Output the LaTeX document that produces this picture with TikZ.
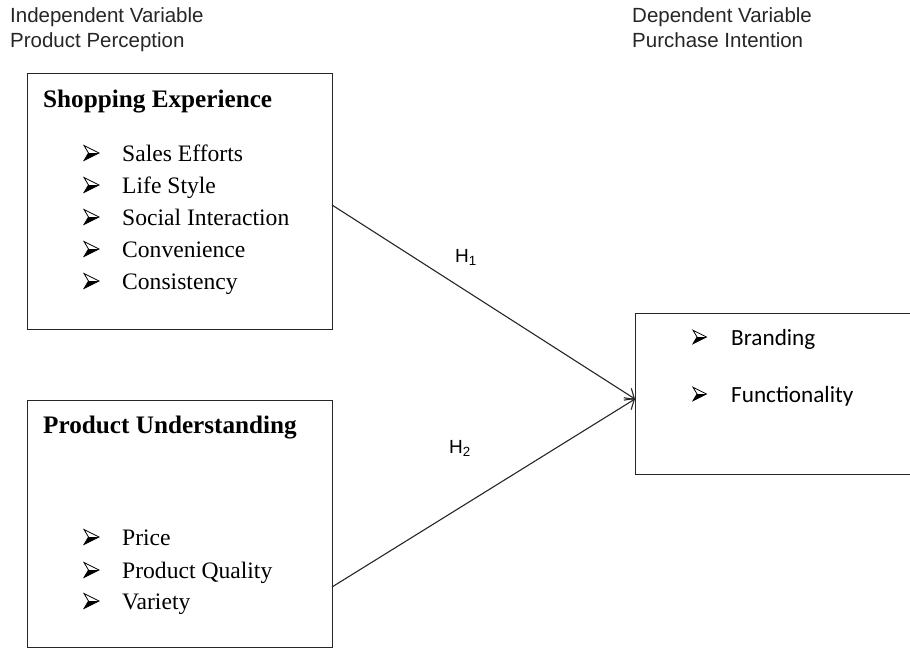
\documentclass[tikz,border=0pt]{standalone}
\usepackage{fontspec}
\setmainfont{Liberation Serif}
\newfontfamily\arialfont{Liberation Sans}
\newfontfamily\calfont{Carlito}
\usetikzlibrary{arrows.meta}
\begin{document}
\begin{tikzpicture}[x=1pt,y=-1pt,
  framebox/.style={draw=black!85, line width=0.9pt},
  headlbl/.style={anchor=base west, inner sep=0pt, font=\arialfont\fontsize{20.5}{22}\selectfont, text=black!85},
  title/.style={anchor=base west, inner sep=0pt, font=\bfseries\fontsize{25.2}{28}\selectfont},
  item/.style={anchor=base west, inner sep=0pt, font=\fontsize{23.6}{26}\selectfont},
  citem/.style={anchor=base west, inner sep=0pt, font=\calfont\fontsize{23.2}{25}\selectfont},
  hyp/.style={anchor=base west, inner sep=0pt, font=\arialfont\fontsize{19}{21}\selectfont},
  link/.style={line width=1.1pt, draw=black!85, -{Straight Barb[length=8pt,width=14pt,line width=1.1pt]}},
  % arrowhead bullet: outlined upper half, solid lower half
  arrowbullet/.pic={
    \fill[black] (15,0) -- (4.5,0) -- (0,7.5) -- cycle;
    \draw[line width=0.8pt, line join=miter] (15,0) -- (0,-7.5) -- (4.5,0) -- (0,7.5) -- cycle;
  }]
\useasboundingbox (0,0) rectangle (910,648);

% headings
\node[headlbl] (ind) at (10,22) {Independent Variable};
\node[headlbl] (pp) at (10,47) {Product Perception};
\node[headlbl] (dep) at (632,22) {Dependent Variable};
\node[headlbl] (pi) at (632,47) {Purchase Intention};

% boxes
\draw[framebox] (27,73) rectangle (332,329);
\node[minimum width=305pt, minimum height=256pt, inner sep=0pt] (shop) at (179.5,201) {};
\draw[framebox] (27,400) rectangle (332,647);
\node[minimum width=305pt, minimum height=247pt, inner sep=0pt] (prod) at (179.5,523.5) {};
\draw[framebox] (635,313) rectangle (915,474);
\node[minimum width=280pt, minimum height=161pt, inner sep=0pt] (purch) at (775,393.5) {};

% shopping experience
\node[title] (t1) at (43,107) {Shopping Experience};
\foreach \y/\t [count=\i] in {161/Sales Efforts,193/Life Style,225/Social Interaction,257/Convenience,289/Consistency}{
  \pic (b1\i) at (84,\y-8) {arrowbullet};
  \node[item] (i1\i) at (122,\y) {\t};
}

% product understanding
\node[title] (t2) at (43,433) {Product Understanding};
\foreach \y/\t [count=\i] in {545/Price,578/Product Quality,609/Variety}{
  \pic (b2\i) at (84,\y-8) {arrowbullet};
  \node[item] (i2\i) at (122,\y) {\t};
}

% purchase intention items
\pic[scale=0.9] (b31) at (693,337) {arrowbullet};
\node[citem] (i31) at (731,345) {Branding};
\pic[scale=0.9] (b32) at (693,394) {arrowbullet};
\node[citem] (i32) at (731,402) {Functionality};

% hypotheses
\coordinate (s1) at (332,205);
\coordinate (s2) at (332,587);
\coordinate (e) at (635,399);
\draw[link] (s1) -- (e);
\draw[link] (s2) -- (e);
\node[hyp] (h1) at (455,262) {H\textsubscript{1}};
\node[hyp] (h2) at (449,453) {H\textsubscript{2}};
\end{tikzpicture}
\end{document}
